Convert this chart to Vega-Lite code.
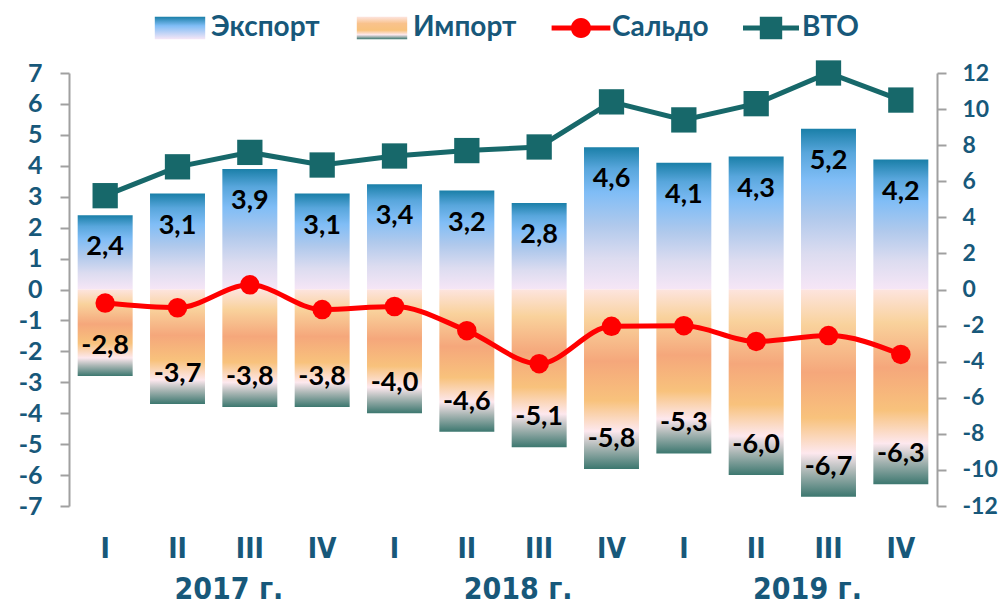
{
  "$schema": "https://vega.github.io/schema/vega-lite/v6.json",
  "autosize": {"type": "none"},
  "width": 868,
  "height": 433,
  "padding": {"left": 69, "top": 73, "right": 71, "bottom": 100},
  "background": "#ffffff",
  "config": {
    "view": {"stroke": null},
    "axis": {"labelOverlap": false},
    "locale": {"number": {"decimal": ",", "thousands": " ", "grouping": [3], "currency": ["", ""], "minus": "-"}}
  },
  "data": {"values": [
    {"q": "2017-I", "exp": 2.4, "imp": -2.8, "saldo": -0.44, "wto": 5.2},
    {"q": "2017-II", "exp": 3.1, "imp": -3.7, "saldo": -0.59, "wto": 6.8},
    {"q": "2017-III", "exp": 3.9, "imp": -3.8, "saldo": 0.15, "wto": 7.6},
    {"q": "2017-IV", "exp": 3.1, "imp": -3.8, "saldo": -0.65, "wto": 6.9},
    {"q": "2018-I", "exp": 3.4, "imp": -4.0, "saldo": -0.55, "wto": 7.4},
    {"q": "2018-II", "exp": 3.2, "imp": -4.6, "saldo": -1.33, "wto": 7.7},
    {"q": "2018-III", "exp": 2.8, "imp": -5.1, "saldo": -2.4, "wto": 7.9},
    {"q": "2018-IV", "exp": 4.6, "imp": -5.8, "saldo": -1.19, "wto": 10.4},
    {"q": "2019-I", "exp": 4.1, "imp": -5.3, "saldo": -1.17, "wto": 9.4},
    {"q": "2019-II", "exp": 4.3, "imp": -6.0, "saldo": -1.68, "wto": 10.3},
    {"q": "2019-III", "exp": 5.2, "imp": -6.7, "saldo": -1.49, "wto": 12.0},
    {"q": "2019-IV", "exp": 4.2, "imp": -6.3, "saldo": -2.1, "wto": 10.5}
  ]},
  "resolve": {"scale": {"y": "independent"}, "axis": {"x": "independent"}},
  "layer": [
    {
      "encoding": {
        "x": {
          "field": "q", "type": "nominal", "sort": null,
          "scale": {"paddingInner": 0.24, "paddingOuter": 0.12},
          "axis": {
            "title": null, "orient": "bottom", "domain": false, "ticks": false, "labelAngle": 0,
            "labelExpr": "split(datum.value, '-')[1]",
            "labelPadding": 29, "labelFontSize": 28, "labelFontWeight": "bold",
            "labelFont": "Liberation Sans Narrow, DejaVu Sans Condensed, Arial Narrow, sans-serif",
            "labelColor": "#17587a", "labelOverlap": false
          }
        }
      },
      "layer": [
        {
          "mark": {"type": "bar", "color": {"gradient": "linear", "x1": 0, "y1": 0, "x2": 0, "y2": 1, "stops": [
            {"offset": 0, "color": "#1a7fa8"},
            {"offset": 0.15, "color": "#58a6dc"},
            {"offset": 0.32, "color": "#80bdf6"},
            {"offset": 0.55, "color": "#b0c9ec"},
            {"offset": 0.78, "color": "#dcdcf0"},
            {"offset": 1, "color": "#f6e6f6"}
          ]}},
          "encoding": {
            "y": {"field": "exp", "type": "quantitative", "scale": {"domain": [-7, 7], "nice": false},
              "axis": {
                "title": null, "values": [-7, -6, -5, -4, -3, -2, -1, 0, 1, 2, 3, 4, 5, 6, 7], "tickCount": 15, "labelOverlap": false,
                "grid": false, "domainColor": "#a0a0a0", "domainWidth": 2, "tickColor": "#a0a0a0", "tickWidth": 2, "tickSize": 9,
                "labelPadding": 18, "labelFontSize": 25, "labelFontWeight": "bold", "labelFont": "Lato, Open Sans, sans-serif",
                "labelColor": "#17587a", "format": "d"
              }}
          }
        },
        {
          "mark": {"type": "bar", "color": {"gradient": "linear", "x1": 0, "y1": 0, "x2": 0, "y2": 1, "stops": [
            {"offset": 0, "color": "#fde4de"},
            {"offset": 0.17, "color": "#f9d29c"},
            {"offset": 0.4, "color": "#f5a77b"},
            {"offset": 0.62, "color": "#f8c27c"},
            {"offset": 0.79, "color": "#fde8ee"},
            {"offset": 0.88, "color": "#a9b6b4"},
            {"offset": 1, "color": "#3c776f"}
          ]}},
          "encoding": {"y": {"field": "imp", "type": "quantitative"}}
        },
        {
          "mark": {"type": "rule", "color": "#9a9a9a", "strokeWidth": 2},
          "encoding": {"y": {"datum": 0}}
        },
        {
          "mark": {"type": "text", "baseline": "middle", "dy": 32, "fontSize": 27, "fontWeight": "bold", "font": "Lato, Open Sans, sans-serif", "color": "#000000"},
          "encoding": {"y": {"field": "exp", "type": "quantitative"}, "text": {"field": "exp", "type": "quantitative", "format": ".1f"}}
        },
        {
          "mark": {"type": "text", "baseline": "middle", "dy": -30, "fontSize": 27, "fontWeight": "bold", "font": "Lato, Open Sans, sans-serif", "color": "#000000"},
          "encoding": {"y": {"field": "imp", "type": "quantitative"}, "text": {"field": "imp", "type": "quantitative", "format": ".1f"}}
        },
        {
          "mark": {"type": "line", "strokeWidth": 5, "interpolate": "monotone", "point": {"filled": true, "size": 380}},
          "encoding": {
            "y": {"field": "saldo", "type": "quantitative"},
            "color": {"datum": "Сальдо", "type": "nominal",
              "scale": {"domain": ["Экспорт", "Импорт", "Сальдо", "ВТО"], "range": [
                {"expr": "{gradient: 'linear', x1: 0, y1: 0, x2: 0, y2: 1, stops: [{offset: 0, color: '#1a7fa8'}, {offset: 0.4, color: '#80bdf6'}, {offset: 1, color: '#f6e6f6'}]}"},
                {"expr": "{gradient: 'linear', x1: 0, y1: 0, x2: 0, y2: 1, stops: [{offset: 0, color: '#fde4de'}, {offset: 0.3, color: '#f9c28c'}, {offset: 0.6, color: '#f8c27c'}, {offset: 0.8, color: '#fde8ee'}, {offset: 1, color: '#3c776f'}]}"},
                "#ff0000", "#17686a"]},
              "legend": {
                "title": null, "orient": "none", "direction": "horizontal", "legendX": 83, "legendY": -73,
                "symbolSize": 3136, "labelOffset": 3, "columnPadding": 34,
                "labelFontSize": 28, "labelFontWeight": "bold", "labelFont": "Lato, Open Sans, sans-serif", "labelColor": "#17587a",
                "encode": {
                  "symbols": {"update": {
                    "shape": {"signal": "datum.label == 'Экспорт' || datum.label == 'Импорт' ? 'M-0.9,-0.4H0.9V0.4H-0.9Z' : datum.label == 'Сальдо' ? 'M-1.05,-0.09H1.05V0.09H-1.05Z M0.36,0 A0.36,0.36 0 1,1 -0.36,0 A0.36,0.36 0 1,1 0.36,0Z' : 'M-1,-0.09H1V0.09H-1Z M-0.4,-0.4H0.4V0.4H-0.4Z'"},
                    "strokeWidth": {"value": 0},
                    "opacity": {"value": 1}
                  }}
                }
              }
            }
          }
        }
      ]
    },
    {
      "encoding": {
        "x": {
          "field": "q", "type": "nominal", "sort": null,
          "axis": {
            "title": null, "orient": "bottom", "domain": false, "ticks": false, "labelAngle": 0,
            "labelExpr": "datum.value == '2017-III' ? '2017 г.' : datum.value == '2018-III' ? '2018 г.' : datum.value == '2019-III' ? '2019 г.' : ''",
            "labelOffset": -21, "labelPadding": 68, "labelFontSize": 30, "labelFontWeight": "bold",
            "labelFont": "Liberation Sans Narrow, DejaVu Sans Condensed, Arial Narrow, sans-serif",
            "labelColor": "#17587a", "labelOverlap": false, "labelBound": false, "labelFlush": false
          }
        }
      },
      "layer": [
        {
          "mark": {"type": "line", "strokeWidth": 5, "point": {"filled": true, "size": 640, "shape": "square"}},
          "encoding": {
            "y": {"field": "wto", "type": "quantitative", "scale": {"domain": [-12, 12], "nice": false},
              "axis": {
                "title": null, "orient": "right", "values": [-12, -10, -8, -6, -4, -2, 0, 2, 4, 6, 8, 10, 12], "tickCount": 13, "labelOverlap": false,
                "grid": false, "domainColor": "#a0a0a0", "domainWidth": 2, "tickColor": "#a0a0a0", "tickWidth": 2, "tickSize": 9,
                "labelPadding": 16, "labelFontSize": 23, "labelFontWeight": "bold", "labelFont": "Lato, Open Sans, sans-serif",
                "labelColor": "#17587a", "format": "d"
              }},
            "color": {"datum": "ВТО", "type": "nominal"}
          }
        }
      ]
    }
  ]
}
